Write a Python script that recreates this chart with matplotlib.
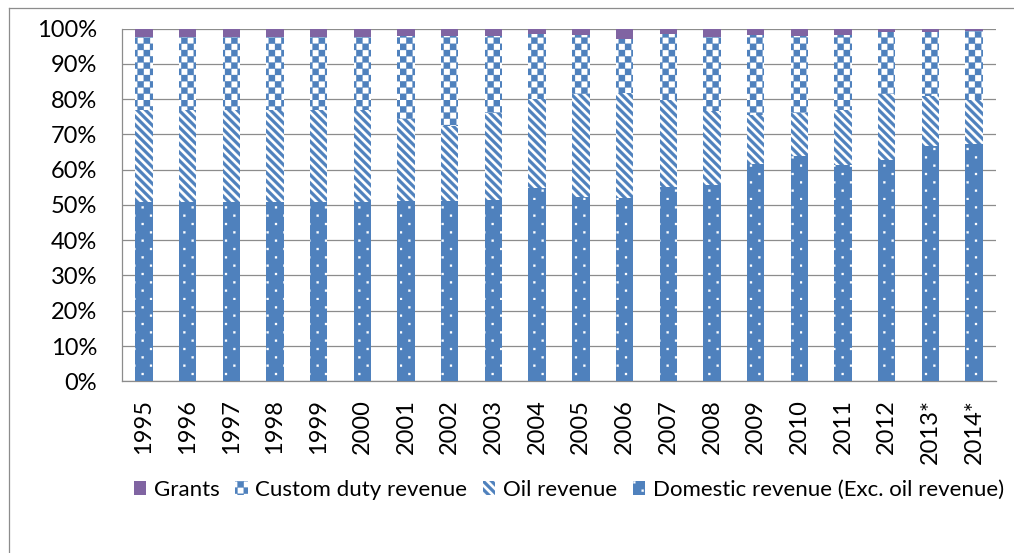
import numpy as np
import matplotlib
matplotlib.use("Agg")
import matplotlib.pyplot as plt
import matplotlib.hatch as mhatch
from matplotlib.path import Path
from matplotlib.lines import Line2D
from matplotlib.ticker import FuncFormatter

# ---------------- data (percent shares) ----------------
years = ["1995", "1996", "1997", "1998", "1999", "2000", "2001", "2002", "2003", "2004",
         "2005", "2006", "2007", "2008", "2009", "2010", "2011", "2012", "2013*", "2014*"]
domestic = [50.8, 50.8, 50.9, 50.8, 50.8, 50.8, 51.0, 51.1, 51.5, 54.8,
            52.2, 51.9, 55.1, 55.7, 61.7, 63.9, 61.3, 62.7, 66.7, 67.4]
oil = [26.0, 26.0, 26.1, 26.0, 26.0, 26.0, 23.4, 21.4, 24.6, 25.3,
       29.3, 29.9, 24.5, 20.8, 13.7, 12.2, 15.5, 18.8, 14.3, 12.2]
custom = [20.9, 20.9, 20.7, 20.9, 20.9, 20.9, 23.5, 25.5, 21.9, 18.4,
          16.7, 15.1, 18.9, 21.2, 22.8, 21.8, 21.4, 17.4, 17.9, 19.7]
grants = [2.3, 2.3, 2.3, 2.3, 2.3, 2.3, 2.1, 2.0, 2.0, 1.5,
          1.8, 3.1, 1.5, 2.3, 1.8, 2.1, 1.8, 1.1, 1.1, 0.7]
series_names = ["Domestic revenue (Exc. oil revenue)", "Oil revenue",
                "Custom duty revenue", "Grants"]
yticks = [0, 10, 20, 30, 40, 50, 60, 70, 80, 90, 100]

BLUE = "#4F81BD"
PURPLE = "#8064A2"
GRID = "#8C8C8C"


# ---------------- custom Excel-like fill patterns ----------------
def _square(x0, y0, s):
    return [[x0, y0], [x0 + s, y0], [x0 + s, y0 + s], [x0, y0 + s], [x0, y0]]

_SQ_CODES = [Path.MOVETO, Path.LINETO, Path.LINETO, Path.LINETO, Path.CLOSEPOLY]


class Checker(mhatch.HatchPatternBase):
    """checkerboard, char 'x'"""
    def __init__(self, hatch, density):
        k = hatch.count('x')
        self.n = 16 * k
        self.num_vertices = (self.n * self.n // 2) * 5

    def set_vertices_and_codes(self, vertices, codes):
        n = self.n
        s = 1.0 / n
        vs, cs = [], []
        for i in range(n):
            for j in range(n):
                if (i + j) % 2 == 0:
                    vs.extend(_square(i * s, j * s, s))
                    cs.extend(_SQ_CODES)
        vertices[:] = np.array(vs)
        codes[:] = np.array(cs)


class WideDiag(mhatch.HatchPatternBase):
    """wide downward diagonal stripes, char '\\'"""
    def __init__(self, hatch, density):
        k = hatch.count('\\')
        self.n = 12 * k
        self.num_vertices = (2 * self.n + 1) * 5 if k else 0

    def set_vertices_and_codes(self, vertices, codes):
        n = self.n
        w = 0.5 / n
        vs, cs = [], []
        for k in range(2 * n + 1):
            c = k / n
            vs.extend([[0, c], [0, c + w], [1, c + w - 1], [1, c - 1], [0, c]])
            cs.extend(_SQ_CODES)
        vertices[:] = np.array(vs)
        codes[:] = np.array(cs)


class SparseDots(mhatch.HatchPatternBase):
    """sparse staggered small dots, char '.'"""
    def __init__(self, hatch, density):
        k = hatch.count('.')
        self.rows = 12 * k
        self.cols = 6 * k
        self.num_vertices = self.rows * self.cols * 5 if k else 0

    def set_vertices_and_codes(self, vertices, codes):
        dy = 1.0 / self.rows
        dx = 1.0 / self.cols
        s = 0.02
        vs, cs = [], []
        for j in range(self.rows):
            off = (j % 2) * dx / 2
            for i in range(self.cols):
                vs.extend(_square(i * dx + off, j * dy, s))
                cs.extend(_SQ_CODES)
        vertices[:] = np.array(vs)
        codes[:] = np.array(cs)


mhatch._hatch_types = [Checker, WideDiag, SparseDots]
plt.rcParams['hatch.linewidth'] = 0.2
plt.rcParams['font.family'] = ['Lato', 'DejaVu Sans']

# ---------------- figure ----------------
W, H = 1014, 553
fig = plt.figure(figsize=(W / 100, H / 100), dpi=100)
ax = fig.add_axes([122 / W, 1 - 381.3 / H, (996 - 122) / W, (381.3 - 28.5) / H])

x = np.arange(len(years))
bw = 0.40
dom = np.array(domestic)
oi = np.array(oil)
cu = np.array(custom)
gr = np.array(grants)

b_dom = ax.bar(x, dom, bw, facecolor=BLUE, edgecolor="white", linewidth=0,
               hatch='.', label=series_names[0], zorder=3)
b_oil = ax.bar(x, oi, bw, bottom=dom, facecolor="white", edgecolor=BLUE,
               linewidth=0, hatch='\\', label=series_names[1], zorder=3)
b_cus = ax.bar(x, cu, bw, bottom=dom + oi, facecolor="white", edgecolor=BLUE,
               linewidth=0, hatch='x', label=series_names[2], zorder=3)
b_gr = ax.bar(x, gr, bw, bottom=dom + oi + cu, facecolor=PURPLE, edgecolor=PURPLE,
              linewidth=0, label=series_names[3], zorder=3)

ax.set_xlim(-0.5, len(years) - 0.5)
ax.set_ylim(0, 100)
ax.set_yticks(yticks)
ax.yaxis.set_major_formatter(FuncFormatter(lambda v, p: f"{int(round(v))}%"))
ax.set_xticks(x)
ax.set_xticklabels(years, rotation=90)
ax.tick_params(axis='y', length=0, pad=18, labelsize=17, colors='black')
ax.tick_params(axis='x', length=0, pad=13, labelsize=17, colors='black')

ax.grid(axis='y', color=GRID, linewidth=0.9, zorder=0)
for side in ['top', 'right']:
    ax.spines[side].set_visible(False)
for side in ['left', 'bottom']:
    ax.spines[side].set_color(GRID)
    ax.spines[side].set_linewidth(0.9)

# legend
handles = [b_gr, b_cus, b_oil, b_dom]
labels = [series_names[3], series_names[2], series_names[1], series_names[0]]
fig.legend(handles, labels, loc='center', bbox_to_anchor=(569 / W, 1 - 490 / H),
           ncol=4, frameon=False, fontsize=16, handlelength=0.55, handleheight=0.55,
           handletextpad=0.35, columnspacing=0.7, borderaxespad=0)

# outer chart frame (only top and left visible in reference)
fig.add_artist(Line2D([8.5 / W, 8.5 / W], [0, 1 - 7.5 / H], transform=fig.transFigure,
                      color="#8C8C8C", linewidth=0.9))
fig.add_artist(Line2D([8.5 / W, 1], [1 - 7.5 / H, 1 - 7.5 / H], transform=fig.transFigure,
                      color="#8C8C8C", linewidth=0.9))

fig.savefig("out.png", dpi=100)
